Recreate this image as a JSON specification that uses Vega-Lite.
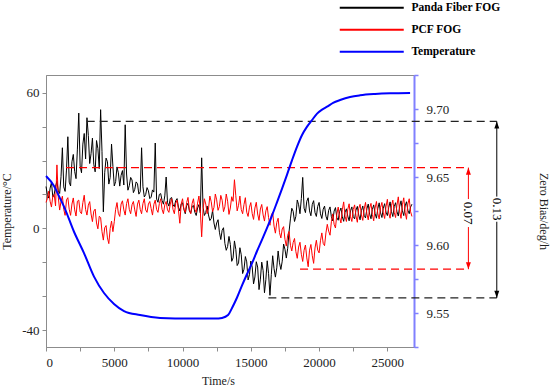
{
"$schema": "https://vega.github.io/schema/vega-lite/v6.json",
"width": 368, "height": 272,
"autosize": {"type": "none"},
"padding": {"left": 46, "top": 75, "right": 136, "bottom": 43},
"background": "white",
"config": {
  "font": "Liberation Serif",
  "view": {"stroke": "#8c8c8c", "strokeWidth": 1},
  "axis": {"labelFont": "Liberation Serif", "titleFont": "Liberation Serif", "labelFontSize": 13, "titleFontSize": 12, "titleFontWeight": "normal", "labelColor": "#222", "titleColor": "#222", "grid": false, "tickSize": 4, "domainColor": "#8c8c8c", "tickColor": "#8c8c8c", "labelPadding": 3}
},
"datasets": {
  "fog": [
{"t":0,"p":9.643,"c":9.6313},{"t":200,"p":9.6345,"c":9.6396},{"t":400,"p":9.646,"c":9.6279},{"t":600,"p":9.6374,"c":9.6372},{"t":800,"p":9.6469,"c":9.6589},{"t":1000,"p":9.6379,"c":9.6257},{"t":1200,"p":9.6715,"c":9.6359},{"t":1400,"p":9.6394,"c":9.6218},{"t":1600,"p":9.6796,"c":9.6348},{"t":1800,"p":9.6434,"c":9.6218},
{"t":2000,"p":9.6666,"c":9.6346},{"t":2200,"p":9.6488,"c":9.6213},{"t":2400,"p":9.697,"c":9.633},{"t":2600,"p":9.6531,"c":9.623},{"t":2800,"p":9.682,"c":9.6366},{"t":3000,"p":9.6936,"c":9.622},{"t":3200,"p":9.6599,"c":9.6319},{"t":3400,"p":9.6786,"c":9.6172},{"t":3600,"p":9.6538,"c":9.6264},{"t":3800,"p":9.671,"c":9.6119},
{"t":4000,"p":9.6995,"c":9.6202},{"t":4200,"p":9.6244,"c":9.6036},{"t":4400,"p":9.6639,"c":9.6143},{"t":4600,"p":9.6448,"c":9.601},{"t":4800,"p":9.6742,"c":9.6176},{"t":5000,"p":9.6434,"c":9.6171},{"t":5200,"p":9.6574,"c":9.6312},{"t":5400,"p":9.6433,"c":9.621},{"t":5600,"p":9.6547,"c":9.6325},{"t":5800,"p":9.6884,"c":9.622},
{"t":6000,"p":9.6403,"c":9.634},{"t":6200,"p":9.6497,"c":9.623},{"t":6400,"p":9.6385,"c":9.632},{"t":6600,"p":9.6464,"c":9.621},{"t":6800,"p":9.6374,"c":9.633},{"t":7000,"p":9.6715,"c":9.623},{"t":7200,"p":9.6353,"c":9.634},{"t":7400,"p":9.6422,"c":9.624},{"t":7600,"p":9.6341,"c":9.632},{"t":7800,"p":9.6405,"c":9.622},
{"t":8000,"p":9.675,"c":9.633},{"t":8200,"p":9.6314,"c":9.624},{"t":8400,"p":9.6378,"c":9.634},{"t":8600,"p":9.63,"c":9.623},{"t":8800,"p":9.65,"c":9.632},{"t":9000,"p":9.6286,"c":9.624},{"t":9200,"p":9.6349,"c":9.634},{"t":9400,"p":9.6282,"c":9.623},{"t":9600,"p":9.6341,"c":9.633},{"t":9800,"p":9.625,"c":9.616},
{"t":10000,"p":9.631,"c":9.634},{"t":10200,"p":9.623,"c":9.624},{"t":10400,"p":9.6307,"c":9.635},{"t":10600,"p":9.6234,"c":9.623},{"t":10800,"p":9.629,"c":9.634},{"t":11000,"p":9.6217,"c":9.624},{"t":11200,"p":9.6297,"c":9.636},{"t":11400,"p":9.6641,"c":9.606},{"t":11600,"p":9.6217,"c":9.634},{"t":11800,"p":9.6287,"c":9.623},
{"t":12000,"p":9.618,"c":9.636},{"t":12200,"p":9.6254,"c":9.6245},{"t":12400,"p":9.6114,"c":9.6375},{"t":12600,"p":9.6186,"c":9.6255},{"t":12800,"p":9.604,"c":9.6365},{"t":13000,"p":9.6127,"c":9.6245},{"t":13200,"p":9.5961,"c":9.6375},{"t":13400,"p":9.6063,"c":9.6225},{"t":13600,"p":9.588,"c":9.6355},{"t":13800,"p":9.603,"c":9.648},
{"t":14000,"p":9.5849,"c":9.6251},{"t":14200,"p":9.598,"c":9.636},{"t":14400,"p":9.579,"c":9.623},{"t":14600,"p":9.5915,"c":9.6348},{"t":14800,"p":9.5743,"c":9.621},{"t":15000,"p":9.5882,"c":9.6312},{"t":15200,"p":9.5714,"c":9.6188},{"t":15400,"p":9.5877,"c":9.6314},{"t":15600,"p":9.5672,"c":9.6181},{"t":15800,"p":9.5874,"c":9.6298},
{"t":16000,"p":9.5649,"c":9.6176},{"t":16200,"p":9.5884,"c":9.6282},{"t":16400,"p":9.563,"c":9.6145},{"t":16600,"p":9.5921,"c":9.6241},{"t":16800,"p":9.5764,"c":9.6087},{"t":17000,"p":9.5956,"c":9.6197},{"t":17200,"p":9.582,"c":9.6052},{"t":17400,"p":9.6007,"c":9.6135},{"t":17600,"p":9.5904,"c":9.5992},{"t":17800,"p":9.6098,"c":9.61},
{"t":18000,"p":9.627,"c":9.5956},{"t":18200,"p":9.6173,"c":9.6048},{"t":18400,"p":9.6331,"c":9.5902},{"t":18600,"p":9.623,"c":9.602},{"t":18800,"p":9.6497,"c":9.5879},{"t":19000,"p":9.6238,"c":9.6},{"t":19200,"p":9.6347,"c":9.584},{"t":19400,"p":9.6215,"c":9.6004},{"t":19600,"p":9.6326,"c":9.5865},{"t":19800,"p":9.621,"c":9.6035},
{"t":20000,"p":9.6313,"c":9.5942},{"t":20200,"p":9.6195,"c":9.6089},{"t":20400,"p":9.6286,"c":9.5995},{"t":20600,"p":9.6183,"c":9.6152},{"t":20800,"p":9.628,"c":9.6072},{"t":21000,"p":9.6177,"c":9.6229},{"t":21200,"p":9.6275,"c":9.6125},{"t":21400,"p":9.6182,"c":9.6279},{"t":21600,"p":9.6272,"c":9.6162},{"t":21800,"p":9.6174,"c":9.6317},
{"t":22000,"p":9.6266,"c":9.6173},{"t":22200,"p":9.6178,"c":9.6303},{"t":22400,"p":9.628,"c":9.6173},{"t":22600,"p":9.6192,"c":9.6295},{"t":22800,"p":9.6284,"c":9.6167},{"t":23000,"p":9.6185,"c":9.6299},{"t":23200,"p":9.6287,"c":9.6181},{"t":23400,"p":9.6199,"c":9.6313},{"t":23600,"p":9.6301,"c":9.6185},{"t":23800,"p":9.6193,"c":9.6306},
{"t":24000,"p":9.6295,"c":9.6178},{"t":24200,"p":9.6197,"c":9.632},{"t":24400,"p":9.631,"c":9.6192},{"t":24600,"p":9.6202,"c":9.6313},{"t":24800,"p":9.6304,"c":9.6195},{"t":25000,"p":9.6216,"c":9.6336},{"t":25200,"p":9.6317,"c":9.6197},{"t":25400,"p":9.6209,"c":9.633},{"t":25600,"p":9.6311,"c":9.6202},{"t":25800,"p":9.6213,"c":9.6354},
{"t":26000,"p":9.6325,"c":9.6196},{"t":26200,"p":9.6216,"c":9.6347},{"t":26400,"p":9.6318,"c":9.6189},{"t":26600,"p":9.623,"c":9.634},{"t":26800,"p":9.63,"c":9.621},
{"t":100,"p":9.6372,"c":9.6341},{"t":300,"p":9.6418,"c":9.6322},{"t":500,"p":9.6352,"c":9.6361},{"t":700,"p":9.6431,"c":9.6287},{"t":900,"p":9.6398,"c":9.6352},{"t":1100,"p":9.6502,"c":9.6321},{"t":1300,"p":9.6427,"c":9.6262},{"t":1500,"p":9.6551,"c":9.6331},{"t":1700,"p":9.6462,"c":9.6263},{"t":1900,"p":9.6612,"c":9.6301},
{"t":2100,"p":9.6541,"c":9.6258},{"t":2300,"p":9.6705,"c":9.6322},{"t":2500,"p":9.6581,"c":9.6244},{"t":2700,"p":9.6742,"c":9.6312},{"t":2900,"p":9.6633,"c":9.6261},{"t":3100,"p":9.6805,"c":9.6293},{"t":3300,"p":9.6672,"c":9.6228},{"t":3500,"p":9.6594,"c":9.6249},{"t":3700,"p":9.6768,"c":9.6162},{"t":3900,"p":9.6562,"c":9.6211},
{"t":4100,"p":9.6689,"c":9.6098},{"t":4300,"p":9.6531,"c":9.6127},{"t":4500,"p":9.6612,"c":9.6052},{"t":4700,"p":9.6497,"c":9.6121},{"t":4900,"p":9.6578,"c":9.6098},{"t":5100,"p":9.6466,"c":9.6262},{"t":5300,"p":9.6531,"c":9.6233},{"t":5500,"p":9.6512,"c":9.6301},{"t":5700,"p":9.6441,"c":9.6258},{"t":5900,"p":9.6522,"c":9.6305},
{"t":6100,"p":9.6436,"c":9.6262},{"t":6300,"p":9.6478,"c":9.6296},{"t":6500,"p":9.6409,"c":9.6258},{"t":6700,"p":9.6451,"c":9.6301},{"t":6900,"p":9.6392,"c":9.6262},{"t":7100,"p":9.6428,"c":9.6305},{"t":7300,"p":9.6371,"c":9.6258},{"t":7500,"p":9.6398,"c":9.6301},{"t":7700,"p":9.6352,"c":9.6268},{"t":7900,"p":9.6389,"c":9.6299},
{"t":8100,"p":9.6338,"c":9.6261},{"t":8300,"p":9.6372,"c":9.6305},{"t":8500,"p":9.6327,"c":9.6262},{"t":8700,"p":9.6361,"c":9.6296},{"t":8900,"p":9.6311,"c":9.6258},{"t":9100,"p":9.6342,"c":9.6301},{"t":9300,"p":9.6296,"c":9.6262},{"t":9500,"p":9.6327,"c":9.6305},{"t":9700,"p":9.6279,"c":9.6258},{"t":9900,"p":9.6302,"c":9.6301},
{"t":10100,"p":9.6262,"c":9.6262},{"t":10300,"p":9.6289,"c":9.6312},{"t":10500,"p":9.6251,"c":9.6258},{"t":10700,"p":9.6283,"c":9.6305},{"t":10900,"p":9.6241,"c":9.6261},{"t":11100,"p":9.6272,"c":9.6308},{"t":11300,"p":9.6236,"c":9.6252},{"t":11500,"p":9.6278,"c":9.6262},{"t":11700,"p":9.6239,"c":9.6301},{"t":11900,"p":9.6221,"c":9.6265},
{"t":12100,"p":9.6195,"c":9.6318},{"t":12300,"p":9.6162,"c":9.6276},{"t":12500,"p":9.6162,"c":9.6332},{"t":12700,"p":9.6094,"c":9.6284},{"t":12900,"p":9.6108,"c":9.6329},{"t":13100,"p":9.6012,"c":9.6281},{"t":13300,"p":9.5989,"c":9.6322},{"t":13500,"p":9.6004,"c":9.6272},{"t":13700,"p":9.5905,"c":9.6321},{"t":13900,"p":9.5968,"c":9.6362},
{"t":14100,"p":9.5868,"c":9.6292},{"t":14300,"p":9.5928,"c":9.6261},{"t":14500,"p":9.5822,"c":9.6298},{"t":14700,"p":9.5876,"c":9.6241},{"t":14900,"p":9.5781,"c":9.6278},{"t":15100,"p":9.5838,"c":9.6231},{"t":15300,"p":9.5765,"c":9.6272},{"t":15500,"p":9.5838,"c":9.6228},{"t":15700,"p":9.5749,"c":9.6265},{"t":15900,"p":9.5812,"c":9.6221},
{"t":16100,"p":9.5745,"c":9.6251},{"t":16300,"p":9.5789,"c":9.6201},{"t":16500,"p":9.5782,"c":9.6218},{"t":16700,"p":9.5826,"c":9.6139},{"t":16900,"p":9.5832,"c":9.6166},{"t":17100,"p":9.5869,"c":9.6091},{"t":17300,"p":9.5881,"c":9.6118},{"t":17500,"p":9.5968,"c":9.6042},{"t":17700,"p":9.5976,"c":9.6072},{"t":17900,"p":9.6192,"c":9.5998},
{"t":18100,"p":9.6248,"c":9.6018},{"t":18300,"p":9.6211,"c":9.5951},{"t":18500,"p":9.6296,"c":9.5985},{"t":18700,"p":9.6342,"c":9.5932},{"t":18900,"p":9.6271,"c":9.5961},{"t":19100,"p":9.6322,"c":9.5905},{"t":19300,"p":9.6251,"c":9.5962},{"t":19500,"p":9.6298,"c":9.5921},{"t":19700,"p":9.6238,"c":9.5978},{"t":19900,"p":9.6284,"c":9.5962},
{"t":20100,"p":9.6229,"c":9.6031},{"t":20300,"p":9.6263,"c":9.6012},{"t":20500,"p":9.6212,"c":9.6089},{"t":20700,"p":9.6255,"c":9.6102},{"t":20900,"p":9.6208,"c":9.6171},{"t":21100,"p":9.6249,"c":9.6152},{"t":21300,"p":9.6201,"c":9.6228},{"t":21500,"p":9.6246,"c":9.6201},{"t":21700,"p":9.6207,"c":9.6259},{"t":21900,"p":9.6241,"c":9.6212},
{"t":22100,"p":9.6212,"c":9.6262},{"t":22300,"p":9.6252,"c":9.6208},{"t":22500,"p":9.6209,"c":9.6261},{"t":22700,"p":9.6256,"c":9.6215},{"t":22900,"p":9.6221,"c":9.6268},{"t":23100,"p":9.6253,"c":9.6221},{"t":23300,"p":9.6218,"c":9.6264},{"t":23500,"p":9.6266,"c":9.6229},{"t":23700,"p":9.6227,"c":9.6271},{"t":23900,"p":9.6262,"c":9.6225},
{"t":24100,"p":9.6231,"c":9.6272},{"t":24300,"p":9.6268,"c":9.6231},{"t":24500,"p":9.6236,"c":9.6276},{"t":24700,"p":9.6271,"c":9.6236},{"t":24900,"p":9.6242,"c":9.6281},{"t":25100,"p":9.6276,"c":9.6235},{"t":25300,"p":9.6245,"c":9.6289},{"t":25500,"p":9.6282,"c":9.6241},{"t":25700,"p":9.6247,"c":9.6292},{"t":25900,"p":9.6285,"c":9.6248},
{"t":26100,"p":9.6251,"c":9.6296},{"t":26300,"p":9.6287,"c":9.6241},{"t":26500,"p":9.6256,"c":9.6302},{"t":26700,"p":9.6279,"c":9.6245}
  ],
  "temp": [
{"t":0,"T":24.9},{"t":586,"T":20.7},{"t":952,"T":16.4},{"t":1318,"T":12.0},{"t":2051,"T":1.4},{"t":2783,"T":-7.6},{"t":3516,"T":-17.5},{"t":4248,"T":-24.4},{"t":4981,"T":-29.0},{"t":5713,"T":-32.0},{"t":6885,"T":-33.7},{"t":8351,"T":-34.9},{"t":10548,"T":-35.2},{"t":12379,"T":-35.2},{"t":12892,"T":-34.9},{"t":13332,"T":-33.7},{"t":13625,"T":-30.7},{"t":13991,"T":-26.3},{"t":14357,"T":-21.2},{"t":14723,"T":-16.4},{"t":15090,"T":-11.8},{"t":15456,"T":-6.7},{"t":15822,"T":-1.9},{"t":16188,"T":3.0},{"t":16555,"T":8.3},{"t":16921,"T":13.9},{"t":17287,"T":19.6},{"t":17653,"T":25.5},{"t":18020,"T":31.6},{"t":18386,"T":37.3},{"t":18752,"T":42.2},{"t":19118,"T":45.7},{"t":19485,"T":48.5},{"t":19851,"T":51.2},{"t":20217,"T":52.9},{"t":20583,"T":54.1},{"t":21023,"T":55.7},{"t":21536,"T":56.9},{"t":22268,"T":58.2},{"t":23000,"T":58.9},{"t":24099,"T":59.45},{"t":25198,"T":59.75},{"t":26663,"T":59.9}
  ],
  "blackDash": [{"t1":2981,"t2":33013,"v":9.6909},{"t1":16283,"t2":33013,"v":9.5611}],
  "redDash": [{"t1":1465,"t2":30934,"v":9.6569},{"t1":18605,"t2":30934,"v":9.5822}],
  "blackArrow": [{"t":33013,"v1":9.5611,"v2":9.6171},{"t":33013,"v1":9.6356,"v2":9.6909}],
  "redArrow": [{"t":30934,"v1":9.5822,"v2":9.6132},{"t":30934,"v1":9.6338,"v2":9.6569}],
  "blackHeads": [{"t":33013,"v":9.6909,"d":"up"},{"t":33013,"v":9.5611,"d":"down"}],
  "redHeads": [{"t":30934,"v":9.6569,"d":"up"},{"t":30934,"v":9.5822,"d":"down"}],
  "labels": [{"t":33013,"v":9.6263,"lab":"0.13"},{"t":30934,"v":9.6235,"lab":"0.07"}]
},
"layer": [
  {"layer": [
    {"data": {"name": "fog"}, "mark": {"type": "line", "strokeWidth": 1},
     "encoding": {
       "x": {"field": "t", "type": "quantitative", "scale": {"domain": [0, 26950], "nice": false}, "axis": {"orient": "bottom", "title": "Time/s", "values": [0, 2500, 5000, 7500, 10000, 12500, 15000, 17500, 20000, 22500, 25000], "labelExpr": "datum.value % 5000 == 0 ? format(datum.value, 'd') : ''", "labelPadding": 5, "titlePadding": 6, "titleX": 172}},
       "y": {"field": "p", "type": "quantitative", "scale": {"domain": [9.525, 9.725], "nice": false, "zero": false}, "axis": {"orient": "right", "title": "Zero Bias/deg/h", "values": [9.525, 9.55, 9.575, 9.6, 9.625, 9.65, 9.675, 9.7, 9.725], "labelExpr": "round(datum.value*1000) % 50 == 0 ? format(datum.value, '.2f') : ''", "domainColor": "#8080ff", "tickColor": "#8080ff", "domainWidth": 2, "tickWidth": 1.5, "labelPadding": 8, "titlePadding": 88}},
       "color": {"datum": "Panda Fiber FOG", "type": "nominal",
                 "scale": {"domain": ["Panda Fiber FOG", "PCF FOG", "Temperature"], "range": ["#000000", "#ff0000", "#0000ff"]},
                 "legend": {"orient": "none", "legendX": 320, "legendY": -73, "title": null, "symbolType": "M-8,0H8", "symbolSize": 64, "symbolStrokeWidth": 2, "symbolFillColor": "transparent", "labelFont": "Liberation Serif", "labelFontWeight": "bold", "labelFontSize": 11.5, "labelColor": "#000", "labelOffset": 34, "rowPadding": 9, "direction": "vertical"}}
     }},
    {"data": {"name": "fog"}, "mark": {"type": "line", "strokeWidth": 1},
     "encoding": {
       "x": {"field": "t", "type": "quantitative", "scale": {"domain": [0, 26950], "nice": false}, "axis": {"orient": "bottom", "title": "Time/s", "values": [0, 2500, 5000, 7500, 10000, 12500, 15000, 17500, 20000, 22500, 25000], "labelExpr": "datum.value % 5000 == 0 ? format(datum.value, 'd') : ''", "labelPadding": 5, "titlePadding": 6, "titleX": 172}},
       "y": {"field": "c", "type": "quantitative", "scale": {"domain": [9.525, 9.725], "nice": false, "zero": false}, "axis": {"orient": "right", "title": "Zero Bias/deg/h", "values": [9.525, 9.55, 9.575, 9.6, 9.625, 9.65, 9.675, 9.7, 9.725], "labelExpr": "round(datum.value*1000) % 50 == 0 ? format(datum.value, '.2f') : ''", "domainColor": "#8080ff", "tickColor": "#8080ff", "domainWidth": 2, "tickWidth": 1.5, "labelPadding": 8, "titlePadding": 88}},
       "color": {"datum": "PCF FOG", "type": "nominal"}
     }},
    {"data": {"name": "blackDash"}, "mark": {"type": "rule", "color": "#222222", "strokeDash": [8, 5], "strokeWidth": 1.2},
     "encoding": {
       "x": {"field": "t1", "type": "quantitative", "scale": {"domain": [0, 26950], "nice": false}, "axis": {"orient": "bottom", "title": "Time/s", "values": [0, 2500, 5000, 7500, 10000, 12500, 15000, 17500, 20000, 22500, 25000], "labelExpr": "datum.value % 5000 == 0 ? format(datum.value, 'd') : ''", "labelPadding": 5, "titlePadding": 6, "titleX": 172}},
       "x2": {"field": "t2"},
       "y": {"field": "v", "type": "quantitative", "scale": {"domain": [9.525, 9.725], "nice": false, "zero": false}, "axis": {"orient": "right", "title": "Zero Bias/deg/h", "values": [9.525, 9.55, 9.575, 9.6, 9.625, 9.65, 9.675, 9.7, 9.725], "labelExpr": "round(datum.value*1000) % 50 == 0 ? format(datum.value, '.2f') : ''", "domainColor": "#8080ff", "tickColor": "#8080ff", "domainWidth": 2, "tickWidth": 1.5, "labelPadding": 8, "titlePadding": 88}}
     }},
    {"data": {"name": "redDash"}, "mark": {"type": "rule", "color": "#ff0000", "strokeDash": [8, 5], "strokeWidth": 1.2},
     "encoding": {
       "x": {"field": "t1", "type": "quantitative", "scale": {"domain": [0, 26950], "nice": false}, "axis": {"orient": "bottom", "title": "Time/s", "values": [0, 2500, 5000, 7500, 10000, 12500, 15000, 17500, 20000, 22500, 25000], "labelExpr": "datum.value % 5000 == 0 ? format(datum.value, 'd') : ''", "labelPadding": 5, "titlePadding": 6, "titleX": 172}},
       "x2": {"field": "t2"},
       "y": {"field": "v", "type": "quantitative", "scale": {"domain": [9.525, 9.725], "nice": false, "zero": false}, "axis": {"orient": "right", "title": "Zero Bias/deg/h", "values": [9.525, 9.55, 9.575, 9.6, 9.625, 9.65, 9.675, 9.7, 9.725], "labelExpr": "round(datum.value*1000) % 50 == 0 ? format(datum.value, '.2f') : ''", "domainColor": "#8080ff", "tickColor": "#8080ff", "domainWidth": 2, "tickWidth": 1.5, "labelPadding": 8, "titlePadding": 88}}
     }},
    {"data": {"name": "blackArrow"}, "mark": {"type": "rule", "color": "#000000", "strokeWidth": 1},
     "encoding": {
       "x": {"field": "t", "type": "quantitative", "scale": {"domain": [0, 26950], "nice": false}, "axis": {"orient": "bottom", "title": "Time/s", "values": [0, 2500, 5000, 7500, 10000, 12500, 15000, 17500, 20000, 22500, 25000], "labelExpr": "datum.value % 5000 == 0 ? format(datum.value, 'd') : ''", "labelPadding": 5, "titlePadding": 6, "titleX": 172}},
       "y": {"field": "v1", "type": "quantitative", "scale": {"domain": [9.525, 9.725], "nice": false, "zero": false}, "axis": {"orient": "right", "title": "Zero Bias/deg/h", "values": [9.525, 9.55, 9.575, 9.6, 9.625, 9.65, 9.675, 9.7, 9.725], "labelExpr": "round(datum.value*1000) % 50 == 0 ? format(datum.value, '.2f') : ''", "domainColor": "#8080ff", "tickColor": "#8080ff", "domainWidth": 2, "tickWidth": 1.5, "labelPadding": 8, "titlePadding": 88}},
       "y2": {"field": "v2"}
     }},
    {"data": {"name": "redArrow"}, "mark": {"type": "rule", "color": "#ff0000", "strokeWidth": 1},
     "encoding": {
       "x": {"field": "t", "type": "quantitative", "scale": {"domain": [0, 26950], "nice": false}, "axis": {"orient": "bottom", "title": "Time/s", "values": [0, 2500, 5000, 7500, 10000, 12500, 15000, 17500, 20000, 22500, 25000], "labelExpr": "datum.value % 5000 == 0 ? format(datum.value, 'd') : ''", "labelPadding": 5, "titlePadding": 6, "titleX": 172}},
       "y": {"field": "v1", "type": "quantitative", "scale": {"domain": [9.525, 9.725], "nice": false, "zero": false}, "axis": {"orient": "right", "title": "Zero Bias/deg/h", "values": [9.525, 9.55, 9.575, 9.6, 9.625, 9.65, 9.675, 9.7, 9.725], "labelExpr": "round(datum.value*1000) % 50 == 0 ? format(datum.value, '.2f') : ''", "domainColor": "#8080ff", "tickColor": "#8080ff", "domainWidth": 2, "tickWidth": 1.5, "labelPadding": 8, "titlePadding": 88}},
       "y2": {"field": "v2"}
     }},
    {"data": {"name": "blackHeads"}, "mark": {"type": "point", "filled": true, "opacity": 1, "color": "#000000", "strokeWidth": 0},
     "encoding": {
       "x": {"field": "t", "type": "quantitative", "scale": {"domain": [0, 26950], "nice": false}, "axis": {"orient": "bottom", "title": "Time/s", "values": [0, 2500, 5000, 7500, 10000, 12500, 15000, 17500, 20000, 22500, 25000], "labelExpr": "datum.value % 5000 == 0 ? format(datum.value, 'd') : ''", "labelPadding": 5, "titlePadding": 6, "titleX": 172}},
       "y": {"field": "v", "type": "quantitative", "scale": {"domain": [9.525, 9.725], "nice": false, "zero": false}, "axis": {"orient": "right", "title": "Zero Bias/deg/h", "values": [9.525, 9.55, 9.575, 9.6, 9.625, 9.65, 9.675, 9.7, 9.725], "labelExpr": "round(datum.value*1000) % 50 == 0 ? format(datum.value, '.2f') : ''", "domainColor": "#8080ff", "tickColor": "#8080ff", "domainWidth": 2, "tickWidth": 1.5, "labelPadding": 8, "titlePadding": 88}},
       "shape": {"field": "d", "type": "nominal", "scale": {"domain": ["up", "down"], "range": ["M0,0L-0.35,1L0.35,1Z", "M0,0L-0.35,-1L0.35,-1Z"]}, "legend": null},
       "size": {"value": 200}
     }},
    {"data": {"name": "redHeads"}, "mark": {"type": "point", "filled": true, "opacity": 1, "color": "#ff0000", "strokeWidth": 0},
     "encoding": {
       "x": {"field": "t", "type": "quantitative", "scale": {"domain": [0, 26950], "nice": false}, "axis": {"orient": "bottom", "title": "Time/s", "values": [0, 2500, 5000, 7500, 10000, 12500, 15000, 17500, 20000, 22500, 25000], "labelExpr": "datum.value % 5000 == 0 ? format(datum.value, 'd') : ''", "labelPadding": 5, "titlePadding": 6, "titleX": 172}},
       "y": {"field": "v", "type": "quantitative", "scale": {"domain": [9.525, 9.725], "nice": false, "zero": false}, "axis": {"orient": "right", "title": "Zero Bias/deg/h", "values": [9.525, 9.55, 9.575, 9.6, 9.625, 9.65, 9.675, 9.7, 9.725], "labelExpr": "round(datum.value*1000) % 50 == 0 ? format(datum.value, '.2f') : ''", "domainColor": "#8080ff", "tickColor": "#8080ff", "domainWidth": 2, "tickWidth": 1.5, "labelPadding": 8, "titlePadding": 88}},
       "shape": {"field": "d", "type": "nominal", "legend": null},
       "size": {"value": 200}
     }},
    {"data": {"name": "labels"}, "mark": {"type": "text", "angle": 90, "fontSize": 13, "font": "Liberation Serif", "color": "#000000", "align": "center", "baseline": "middle"},
     "encoding": {
       "x": {"field": "t", "type": "quantitative", "scale": {"domain": [0, 26950], "nice": false}, "axis": {"orient": "bottom", "title": "Time/s", "values": [0, 2500, 5000, 7500, 10000, 12500, 15000, 17500, 20000, 22500, 25000], "labelExpr": "datum.value % 5000 == 0 ? format(datum.value, 'd') : ''", "labelPadding": 5, "titlePadding": 6, "titleX": 172}},
       "y": {"field": "v", "type": "quantitative", "scale": {"domain": [9.525, 9.725], "nice": false, "zero": false}, "axis": {"orient": "right", "title": "Zero Bias/deg/h", "values": [9.525, 9.55, 9.575, 9.6, 9.625, 9.65, 9.675, 9.7, 9.725], "labelExpr": "round(datum.value*1000) % 50 == 0 ? format(datum.value, '.2f') : ''", "domainColor": "#8080ff", "tickColor": "#8080ff", "domainWidth": 2, "tickWidth": 1.5, "labelPadding": 8, "titlePadding": 88}},
       "text": {"field": "lab"}
     }}
  ]},
  {"data": {"name": "temp"}, "mark": {"type": "line", "strokeWidth": 2, "interpolate": "monotone"},
   "encoding": {
     "x": {"field": "t", "type": "quantitative", "scale": {"domain": [0, 26950], "nice": false}, "axis": {"orient": "bottom", "title": "Time/s", "values": [0, 2500, 5000, 7500, 10000, 12500, 15000, 17500, 20000, 22500, 25000], "labelExpr": "datum.value % 5000 == 0 ? format(datum.value, 'd') : ''", "labelPadding": 5, "titlePadding": 6, "titleX": 172}},
     "y": {"field": "T", "type": "quantitative", "scale": {"domain": [-47.16, 67.46], "nice": false, "zero": false},
           "axis": {"orient": "left", "title": "Temperature/°C", "values": [60, 45.714, 31.429, 17.143, 2.857, -11.429, -25.714, -40],
                    "labelExpr": "datum.value == 60 ? '60' : (datum.value > 2 && datum.value < 3.5) ? '0' : datum.value == -40 ? '-40' : ''", "titlePadding": 8}},
     "color": {"datum": "Temperature", "type": "nominal"}
   }}
],
"resolve": {"scale": {"y": "independent"}}
}
